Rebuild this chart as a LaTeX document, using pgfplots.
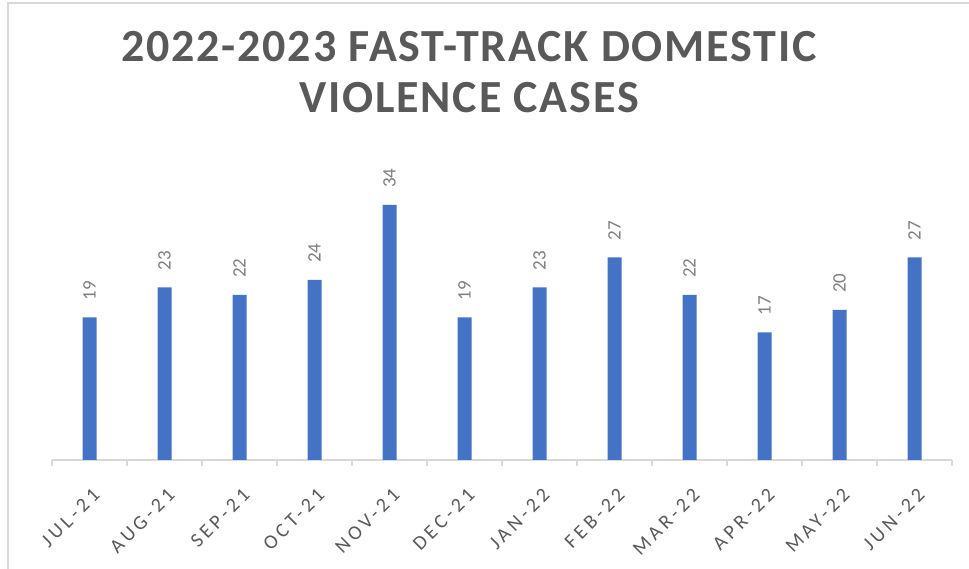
\documentclass[border=0pt]{standalone}
\usepackage{pgfplots}
\pgfplotsset{compat=1.18}
\usepackage{fontspec}
\setmainfont{Carlito}
\newfontfamily\titlefont[LetterSpace=4]{Carlito}
\newfontfamily\tickfont[LetterSpace=19]{Carlito}
\definecolor{barblue}{HTML}{4472C4}
\definecolor{axisgray}{HTML}{D9D9D9}
\definecolor{textgray}{HTML}{595959}
\definecolor{labelgray}{HTML}{7F7F7F}
\begin{document}
\begin{tikzpicture}
\useasboundingbox (0,0) rectangle (969pt,569pt);
\fill[white] (0,0) rectangle (969pt,569pt);
\draw[axisgray,line width=1.5pt] (8pt,-20pt) -- (8pt,566pt) -- (990pt,566pt);
\node[anchor=base,text=textgray,inner sep=0pt] at (469pt,507pt) {\titlefont\bfseries\fontsize{46}{50}\selectfont 2022-2023 FAST-TRACK DOMESTIC};
\node[anchor=base,text=textgray,inner sep=0pt] at (469pt,456pt) {\titlefont\bfseries\fontsize{46}{50}\selectfont VIOLENCE CASES};
\begin{axis}[
  at={(52pt,109pt)}, anchor=south west,
  scale only axis, width=900pt, height=300pt,
  xmin=-0.5, xmax=11.5, ymin=0, ymax=40,
  axis x line*=bottom, axis y line=none,
  axis line style={axisgray,line width=1.2pt},
  xtick={0,...,11},
  xticklabels={JUL-21,AUG-21,SEP-21,OCT-21,NOV-21,DEC-21,JAN-22,FEB-22,MAR-22,APR-22,MAY-22,JUN-22},
  minor xtick={-0.5,0.5,...,11.5},
  major tick length=0pt, minor tick length=6pt,
  tick align=outside,
  every minor tick/.style={axisgray,line width=1.2pt},
  xticklabel style={xshift=2pt, yshift=-27pt, rotate=45, anchor=north east, inner sep=0pt, text=textgray, font=\tickfont\fontsize{20}{22}\selectfont},
  ybar, bar width=14pt,
  /pgf/number format/assume math mode=true,
  nodes near coords,
  every node near coord/.append style={rotate=90, anchor=west, inner sep=0pt, xshift=17pt, text=labelgray, font=\fontsize{19}{21}\selectfont},
  clip=false,
]
\addplot[fill=barblue, draw=none] coordinates {
(0,19) (1,23) (2,22) (3,24) (4,34) (5,19) (6,23) (7,27) (8,22) (9,17) (10,20) (11,27)
};
\end{axis}
\end{tikzpicture}
\end{document}
